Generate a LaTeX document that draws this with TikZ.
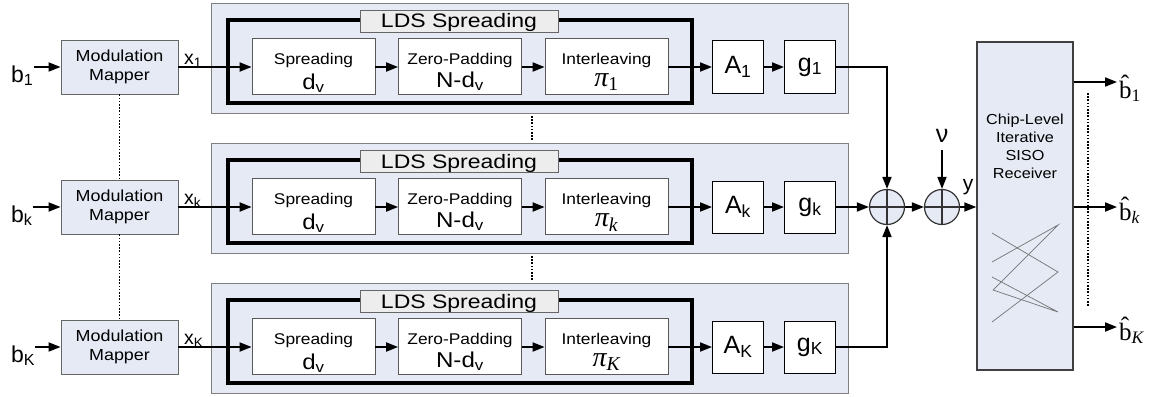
\documentclass[tikz,border=0pt]{standalone}
\usepackage{fontspec}
\setmainfont{Liberation Sans}
\newfontfamily\serfont{Liberation Serif}
\usetikzlibrary{arrows.meta,calc}
\definecolor{panelblue}{RGB}{229,234,245}
\newcommand\hstretch[1]{\scalebox{1.12}[1]{#1}}
\tikzset{
  panel/.style={draw=black!50, fill=panelblue, line width=0.9pt, inner sep=0pt, minimum width=637pt, minimum height=110pt},
  mapper/.style={draw=black!60, fill=panelblue, line width=0.9pt, minimum width=117pt, minimum height=54pt, inner sep=0pt, align=center, font=\fontsize{16}{19}\selectfont},
  ldsbox/.style={draw=black, line width=3.5pt, inner sep=0pt, minimum width=464pt, minimum height=83pt},
  ldslabel/.style={draw=black!60, fill=black!7, line width=0.9pt, minimum width=198pt, minimum height=22pt, inner sep=0pt},
  proc/.style={draw=black!65, fill=white, line width=0.8pt, minimum width=123pt, minimum height=56pt, inner sep=0pt},
  gain/.style={draw=black, fill=white, line width=1pt, minimum width=51pt, minimum height=52pt, inner sep=0pt, font=\fontsize{25}{25}\selectfont},
  small/.style={inner sep=0pt, font=\fontsize{15.5}{17}\selectfont},
  big/.style={inner sep=0pt, font=\fontsize{21.5}{21.5}\selectfont},
  lab/.style={inner sep=0pt},
  sig/.style={line width=1.8pt, -{Triangle[length=12pt,width=9pt]}},
  sumnode/.style={circle, draw=black!80, fill=panelblue, line width=1.2pt, minimum size=35pt, inner sep=0pt},
  dots/.style={line width=1.6pt, dash pattern=on 1.6pt off 1.6pt},
  thin/.style={draw=black!55, line width=0.7pt},
}
\begin{document}
\begin{tikzpicture}[x=1pt,y=-1pt]
\useasboundingbox (0,0) rectangle (1155,396);

\foreach \r/\cy/\s/\ps in {1/67/1/{\upshape 1},2/207/k/k,3/347/K/K}{
  % panel and LDS box
  \node[panel] (pan\r) at (529.5,\cy-9) {};
  \node[ldsbox] (lds\r) at (460,\cy-5.5) {};
  \node[ldslabel] (ldl\r) at (459,\cy-46) {};
  \node[anchor=base, inner sep=0pt, font=\fontsize{19.5}{20}\selectfont] (ldt\r) at (459,\cy-39) {\scalebox{1.18}[1]{LDS Spreading}};
  % mapper
  \node[mapper] (map\r) at (119.5,\cy) {\hstretch{Modulation}\\\hstretch{Mapper}};
  \node[lab, anchor=base west, font=\fontsize{23}{23}\selectfont] (bl\r) at (11,\cy+15) {b\textsubscript{\s}};
  \node[lab, anchor=base west, font=\fontsize{19.5}{19.5}\selectfont] (xl\r) at (184,\cy-3) {x\textsubscript{\s}};
  % processing boxes
  \node[proc] (sp\r) at (313.5,\cy-1) {};
  \node[proc] (zp\r) at (460,\cy-1) {};
  \node[proc] (il\r) at (606.5,\cy-1) {};
  \node[small, anchor=base] (spt\r) at (313.5,\cy-3) {\hstretch{Spreading}};
  \node[big, anchor=base] (spd\r) at (313.5,\cy+22) {\hstretch{d\textsubscript{v}}};
  \node[small, anchor=base] (zpt\r) at (460,\cy-3) {\hstretch{Zero-Padding}};
  \node[big, anchor=base] (zpd\r) at (460,\cy+20) {\hstretch{N-d\textsubscript{v}}};
  \node[small, anchor=base] (ilt\r) at (606.5,\cy-3) {\hstretch{Interleaving}};
  \node[inner sep=0pt, anchor=base, font=\fontsize{28}{28}\selectfont\serfont\itshape] (ilp\r) at (606.5,\cy+19) {π\textsubscript{\ps}};
  \node[gain] (A\r) at (738,\cy) {A\textsubscript{\s}};
  \node[gain] (g\r) at (810,\cy) {g\textsubscript{\s}};
  % signal arrows
  \draw[sig] (bl\r.east |- map\r.west) -- (map\r.west);
  \draw[sig] (map\r.east) -- (sp\r.west |- map\r.east);
  \draw[sig] (sp\r.east |- map\r.east) -- (zp\r.west |- map\r.east);
  \draw[sig] (zp\r.east |- map\r.east) -- (il\r.west |- map\r.east);
  \draw[sig] (il\r.east |- map\r.east) -- (A\r.west);
  \draw[sig] (A\r.east) -- (g\r.west);
}

% dotted continuation lines
\draw[dots] (map1.south) -- (map2.north);
\draw[dots] (map2.south) -- (map3.north);
\coordinate (m1a) at (532,116);
\coordinate (m1b) at (532,141);
\coordinate (m2a) at (532,256);
\coordinate (m2b) at (532,281);
\draw[dots] (m1a) -- (m1b);
\draw[dots] (m2a) -- (m2b);

% summation
\node[sumnode] (s1) at (887,207) {};
\node[sumnode] (s2) at (942,207) {};
\draw[line width=1.2pt, black!80] (s1.north) -- (s1.south) (s1.west) -- (s1.east);
\draw[line width=1.2pt, black!80] (s2.north) -- (s2.south) (s2.west) -- (s2.east);
\draw[sig] (g1.east) -| (s1.north);
\draw[sig] (g2.east) -- (s1.west);
\draw[sig] (g3.east) -| (s1.south);
\draw[sig] (s1.east) -- (s2.west);
\node[lab, anchor=base, font=\fontsize{25}{25}\selectfont] (nu) at (942,142) {ν};
\coordinate (nuend) at (942,150);
\draw[sig] (nuend) -- (s2.north);

% receiver
\node[draw=black!75, fill=panelblue, line width=1.4pt, minimum width=96pt, minimum height=328pt, inner sep=0pt] (rx) at (1025,206) {};
\node[align=center, inner sep=0pt, font=\fontsize{14.5}{18}\selectfont] (rxt) at (1025,146) {\hstretch{Chip-Level}\\\hstretch{Iterative}\\\hstretch{SISO}\\\hstretch{Receiver}};
\draw[sig] (s2.east) -- (s2.east -| rx.west);
\node[lab, anchor=base, font=\fontsize{21}{21}\selectfont] (yl) at (968,190) {y};
\draw[thin] (992,233) -- (1058,272) -- (992,322);
\draw[thin] (992,262) -- (1058,225) -- (993,290) -- (1058,312) -- (992,277);

% outputs
\coordinate (o1) at (1117,82);
\coordinate (o2) at (1117,207);
\coordinate (o3) at (1117,327);
\draw[sig] (rx.east |- o1) -- (o1);
\draw[sig] (rx.east |- o2) -- (o2);
\draw[sig] (rx.east |- o3) -- (o3);
\node[lab, anchor=base west, font=\fontsize{25}{25}\selectfont\serfont] (ob1) at (1119,98) {\^b\textsubscript{1}};
\node[lab, anchor=base west, font=\fontsize{25}{25}\selectfont\serfont] (ob2) at (1119,220) {\^b\textsubscript{\itshape k}};
\node[lab, anchor=base west, font=\fontsize{25}{25}\selectfont\serfont] (ob3) at (1119,340) {\^b\textsubscript{\itshape K}};
\coordinate (r1) at (1088,93);
\coordinate (r2) at (1088,307);
\draw[dots] (r1) -- (r2);
\end{tikzpicture}
\end{document}
